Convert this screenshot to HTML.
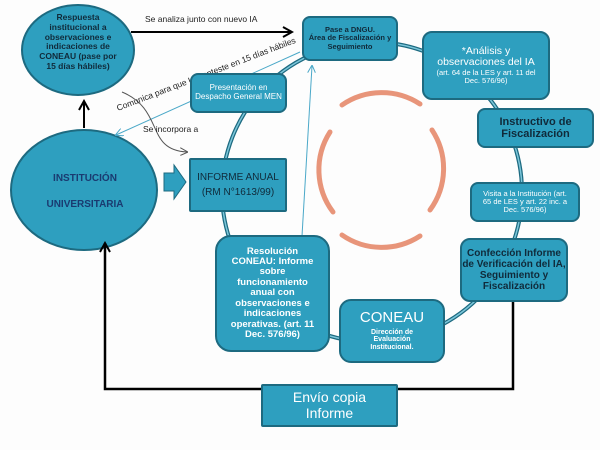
<!DOCTYPE html>
<html><head><meta charset="utf-8"><style>
body{margin:0;width:600px;height:450px;background:#fdfdfd;font-family:"Liberation Sans",sans-serif;position:relative;overflow:hidden}
.b{position:absolute;background:#2e9fbf;border:2px solid #1d6a80;border-radius:8px;color:#fff;text-align:center;box-sizing:border-box;display:flex;flex-direction:column;justify-content:center;align-items:center;line-height:1.1}
.d{color:#102a3a}
</style></head><body>
<svg width="600" height="450" style="position:absolute;left:0;top:0">
<defs><marker id="a" markerUnits="userSpaceOnUse" markerWidth="12" markerHeight="12" refX="10" refY="6" orient="auto"><path d="M1,1L10,6L1,11" fill="none" stroke="#000" stroke-width="2"/></marker>
<marker id="t" markerUnits="userSpaceOnUse" markerWidth="8" markerHeight="8" refX="7" refY="4" orient="auto"><path d="M0,0L8,4L0,8" fill="none" stroke="#4aa8c8" stroke-width="1"/></marker>
<marker id="g" markerUnits="userSpaceOnUse" markerWidth="8" markerHeight="8" refX="7" refY="4" orient="auto"><path d="M0,0L8,4L0,8" fill="none" stroke="#555" stroke-width="1"/></marker></defs>
<circle cx="372" cy="192" r="150" fill="none" stroke="#1d6a80" stroke-width="4"/>
<circle cx="372" cy="192" r="150" fill="none" stroke="#7cc6da" stroke-width="1.5"/>
<g fill="none" stroke="#e8957a" stroke-width="5" stroke-linecap="round">
<path d="M342,105 A70,70 0 0 1 420,104"/>
<path d="M330,132 A70,70 0 0 0 333,212"/>
<path d="M432,130 A70,70 0 0 1 430,210"/>
<path d="M342,235 A70,70 0 0 0 420,236"/>
</g>
<ellipse cx="78" cy="50" rx="56" ry="45" fill="#2e9fbf" stroke="#1d6a80" stroke-width="2"/>
<ellipse cx="84" cy="190" rx="73" ry="60" fill="#2e9fbf" stroke="#1d6a80" stroke-width="2"/>
<path d="M164,173h10v-8l12,17l-12,17v-8h-10z" fill="#2e9fbf" stroke="#1d6a80"/>
<line x1="84" y1="128" x2="84" y2="101" stroke="#000" stroke-width="2" marker-end="url(#a)"/>
<line x1="131" y1="32" x2="292" y2="32" stroke="#000" stroke-width="2" marker-end="url(#a)"/>
<polyline points="513,302 513,389 105,389 105,243" fill="none" stroke="#000" stroke-width="2.5" marker-end="url(#a)"/>
<line x1="300" y1="52" x2="116" y2="135" stroke="#4aa8c8" stroke-width="1" marker-end="url(#t)"/>
<line x1="302" y1="236" x2="312" y2="66" stroke="#4aa8c8" stroke-width="1" marker-end="url(#t)"/>
<path d="M122,92 C165,110 145,150 187,152" fill="none" stroke="#555" marker-end="url(#g)"/>
<text x="145" y="22" font-size="8.5" fill="#222">Se analiza junto con nuevo IA</text>
<text x="143" y="132" font-size="8.5" fill="#222">Se incorpora a</text>
<text transform="translate(118,111) rotate(-21)" font-size="8.5" fill="#222">Comunica para que U. conteste en 15 días hábiles</text>
</svg>
<div style="position:absolute;left:36px;top:13px;width:84px;text-align:center;font-size:8.5px;font-weight:bold;color:#102a3a;line-height:1.15">Respuesta institucional a observaciones e indicaciones de CONEAU (pase por 15 días hábiles)</div>
<div style="position:absolute;left:20px;top:166px;width:130px;text-align:center;font-size:10px;font-weight:bold;color:#1a3a70;line-height:26px">INSTITUCIÓN<br>UNIVERSITARIA</div>
<div class="b d" style="left:189px;top:158px;width:98px;height:54px;border-radius:2px;font-size:10px;line-height:1.5">INFORME ANUAL<br>(RM N°1613/99)</div>
<div class="b" style="left:190px;top:73px;width:97px;height:40px;font-size:8px">Presentación en Despacho General MEN</div>
<div class="b d" style="left:302px;top:16px;width:96px;height:45px;font-size:7.5px;font-weight:bold">Pase a DNGU.<br>Área de Fiscalización y Seguimiento</div>
<div class="b" style="left:422px;top:31px;width:128px;height:69px;border-radius:10px;font-size:10.5px;padding:0 8px">*Análisis y observaciones del IA<span style="font-size:7.5px">(art. 64 de la LES y art. 11 del Dec. 576/96)</span></div>
<div class="b d" style="left:477px;top:108px;width:117px;height:40px;font-size:11px;font-weight:bold">Instructivo de Fiscalización</div>
<div class="b" style="left:470px;top:182px;width:110px;height:40px;font-size:7.5px;padding:0 6px">Visita a la Institución (art. 65 de LES y art. 22 inc. a Dec. 576/96)</div>
<div class="b d" style="left:460px;top:238px;width:108px;height:64px;border-radius:10px;font-size:10px;font-weight:bold">Confección Informe de Verificación del IA, Seguimiento y Fiscalización</div>
<div class="b" style="left:339px;top:299px;width:106px;height:64px;border-radius:12px;font-size:15px;padding:0 14px">CONEAU<span style="font-size:7px;font-weight:bold;margin-top:2px">Dirección de Evaluación Institucional.</span></div>
<div class="b" style="left:215px;top:235px;width:115px;height:117px;border-radius:16px;font-size:9.5px;font-weight:bold;padding:0 8px">Resolución CONEAU: Informe sobre funcionamiento anual con observaciones e indicaciones operativas. (art. 11 Dec. 576/96)</div>
<div class="b" style="left:261px;top:384px;width:137px;height:43px;border-radius:2px;font-size:14px">Envío copia<br>Informe</div>
</body></html>
